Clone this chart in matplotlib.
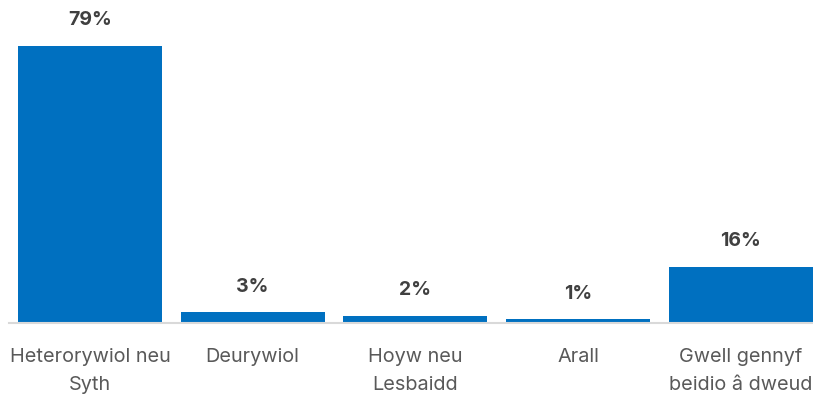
import matplotlib.pyplot as plt

# Categorïau a chanrannau
categorïau = ['Heterorywiol neu\nSyth', 'Deurywiol', 'Hoyw neu\nLesbaidd', 'Arall', 'Gwell gennyf\nbeidio â dweud']
canrannau = [79, 3, 2, 1, 16]

plt.rcParams['font.family'] = ['Inter', 'DejaVu Sans']

fig = plt.figure(figsize=(8.13, 3.96), dpi=100)
ax = fig.add_axes([8.6 / 813, 73 / 396, 813.4 / 813, 316 / 396])

x = range(len(categorïau))
ax.bar(x, canrannau, width=0.885, color='#0070C0')

# Labeli gwerth uwchben y barrau
for xi, v in zip(x, canrannau):
    ax.annotate(f'{v}%', (xi, v), xytext=(0, 18.5), textcoords='offset points',
                ha='center', va='center', fontsize=14, fontweight='bold', color='#404040')

ax.set_xlim(-0.5, 4.5)
ax.set_ylim(0, 90)
ax.set_xticks(list(x))
ax.set_xticklabels(categorïau, fontsize=14.3, color='#595959', linespacing=1.68)
ax.tick_params(axis='x', length=0, pad=18)
ax.set_yticks([])

for s in ['top', 'right', 'left']:
    ax.spines[s].set_visible(False)
ax.spines['bottom'].set_color('#D9D9D9')
ax.spines['bottom'].set_linewidth(1.5)

fig.savefig('out.png', dpi=100)
